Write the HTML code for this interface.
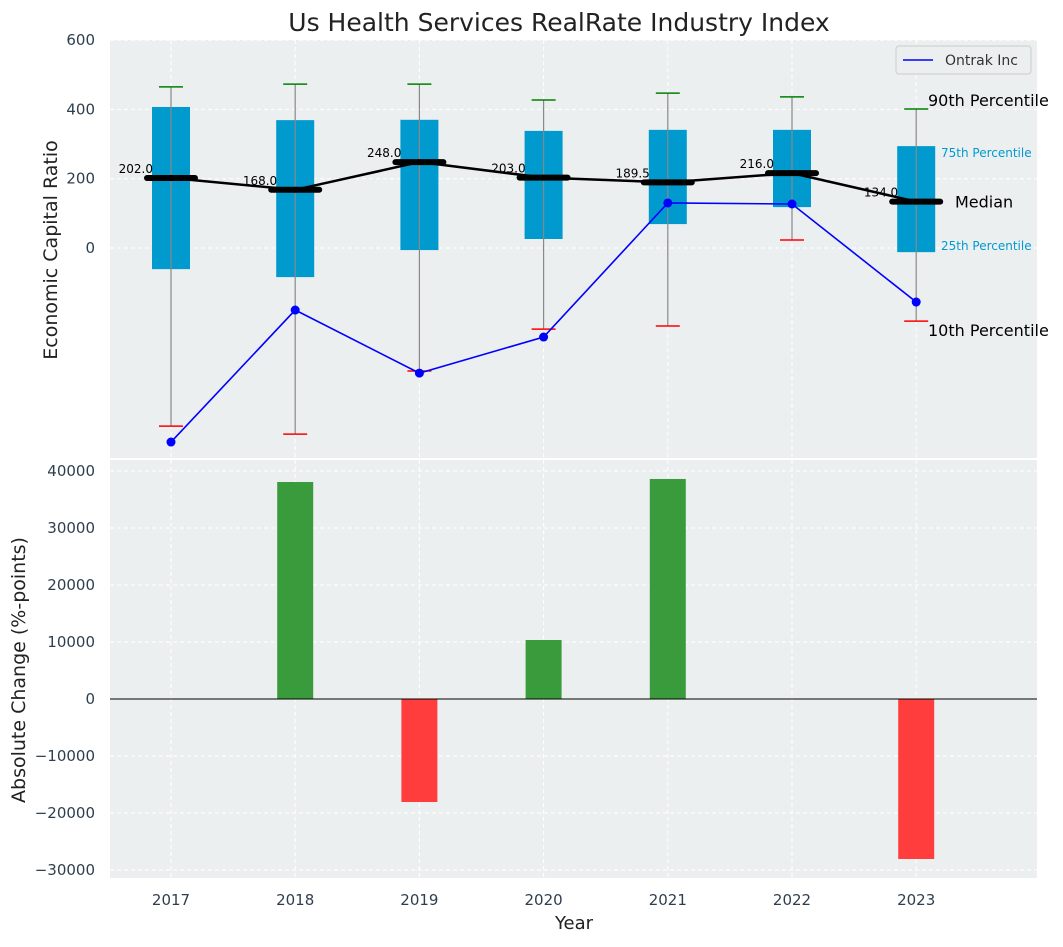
<!DOCTYPE html>
<html><head><meta charset="utf-8"><style>
body{margin:0;background:#fff;font-family:"Liberation Sans","DejaVu Sans",sans-serif}
svg text{font-family:"DejaVu Sans","Liberation Sans",sans-serif}
</style></head><body>
<svg id="c" width="1063" height="942" xmlns="http://www.w3.org/2000/svg"></svg>
<script>
const years=["2017","2018","2019","2020","2021","2022","2023"];
const p10=[-514,-537,-355,-234,-225,23,-211];
const p25=[-61,-84,-6,26,69,118,-12];
const med=[202,168,248,203,189.5,216,134];
const p75=[407,369,370,338,341,341,294];
const p90=[465,473,473,427,447,436,401];
const ontrak=[-560,-179,-361,-257,130,127,-156];
const change=[0,38070,-18070,10350,38600,0,-28070];
const topTicks=[0,200,400,600];
const botTicks=[-30000,-20000,-10000,0,10000,20000,30000,40000];

const NS="http://www.w3.org/2000/svg",svg=document.getElementById('c');
function el(t,a,txt){const e=document.createElementNS(NS,t);for(const k in a)e.setAttribute(k,a[k]);if(txt!==undefined)e.textContent=txt;svg.appendChild(e);return e;}
const L=110,R=1037,T1=40,B1=458,T2=460,B2=878;
const x=i=>171+i*124.2;
const y1=v=>248-v*69.3/200;
const y2=v=>699-v*228/40000;

let e;
e=el('rect',{x:L,y:T1,width:R-L,height:B1-T1,fill:'#eceff0'});

e=el('rect',{x:L,y:T2,width:R-L,height:B2-T2,fill:'#eceff0'});


years.forEach((yr,i)=>{
 el('line',{x1:x(i),x2:x(i),y1:T1,y2:B1,stroke:'#fff','stroke-dasharray':'4,3'});
 el('line',{x1:x(i),x2:x(i),y1:T2,y2:B2,stroke:'#fff','stroke-dasharray':'4,3'});
 e=el('text',{x:x(i),y:905,'text-anchor':'middle','font-size':15,fill:'#2f3e4e'},yr);
 
});
topTicks.forEach(t=>{
 el('line',{x1:L,x2:R,y1:y1(t),y2:y1(t),stroke:'#fff','stroke-dasharray':'4,3'});
 e=el('text',{x:95,y:y1(t)+5,'text-anchor':'end','font-size':15,fill:'#2f3e4e'},t);
 
});
botTicks.forEach(t=>{
 el('line',{x1:L,x2:R,y1:y2(t),y2:y2(t),stroke:'#fff','stroke-dasharray':'4,3'});
 e=el('text',{x:95,y:y2(t)+5,'text-anchor':'end','font-size':15,fill:'#2f3e4e'},t<0?'\u2212'+(-t):t);
 
});

years.forEach((yr,i)=>{
 e=el('rect',{x:x(i)-19,y:y1(p75[i]),width:38,height:y1(p25[i])-y1(p75[i]),fill:'#009ace'});
 
 e=el('line',{x1:x(i),x2:x(i),y1:y1(p90[i]),y2:y1(p10[i]),stroke:'#888','stroke-width':1.2});
 
 e=el('line',{x1:x(i)-12,x2:x(i)+12,y1:y1(p90[i]),y2:y1(p90[i]),stroke:'green','stroke-width':1.5});
 
 e=el('line',{x1:x(i)-12,x2:x(i)+12,y1:y1(p10[i]),y2:y1(p10[i]),stroke:'red','stroke-width':1.5});
 
});
e=el('polyline',{points:med.map((v,i)=>x(i)+','+y1(v)).join(' '),fill:'none',stroke:'#000','stroke-width':2.5});

years.forEach((yr,i)=>{
 e=el('line',{x1:x(i)-24,x2:x(i)+24,y1:y1(med[i]),y2:y1(med[i]),stroke:'#000','stroke-width':6,'stroke-linecap':'round'});
 
 e=el('text',{x:x(i)-18,y:y1(med[i])-5,'text-anchor':'end','font-size':12,fill:'#000'},med[i].toFixed(1));
 
});
e=el('polyline',{points:ontrak.map((v,i)=>x(i)+','+y1(v)).join(' '),fill:'none',stroke:'blue','stroke-width':1.6});

ontrak.forEach((v,i)=>{e=el('circle',{cx:x(i),cy:y1(v),r:4.5,fill:'blue'});
 });

[['90th Percentile',928,y1(p90[6])-3,16,'#000'],['75th Percentile',941,y1(p75[6])+11,12,'#009ace'],['Median',955,y1(med[6])+6,16,'#000'],['25th Percentile',941,y1(p25[6])-2,12,'#009ace'],['10th Percentile',928,y1(p10[6])+15,16,'#000']].forEach(a=>{
 e=el('text',{x:a[1],y:a[2],'font-size':a[3],fill:a[4]},a[0]);
 
});

e=el('rect',{x:896,y:46,width:135,height:28,fill:'#eceff0',stroke:'#ccc',rx:3});

el('line',{x1:903,x2:933,y1:60,y2:60,stroke:'blue','stroke-width':1.6});
e=el('text',{x:945,y:65,'font-size':14,fill:'#333'},'Ontrak Inc');


change.forEach((v,i)=>{if(!v)return;
 e=el('rect',{x:x(i)-18,y:Math.min(y2(v),y2(0)),width:36,height:Math.abs(y2(v)-y2(0)),fill:v>0?'#3a9b3c':'#ff3d3d'});
 
});
el('line',{x1:L,x2:R,y1:y2(0),y2:y2(0),stroke:'#000','stroke-width':1});

e=el('text',{x:559,y:31,'text-anchor':'middle','font-size':25,fill:'#222'},'Us Health Services RealRate Industry Index');

e=el('text',{x:574,y:929,'text-anchor':'middle','font-size':18,fill:'#222'},'Year');

e=el('text',{x:0,y:0,transform:'translate(57,250) rotate(-90)','text-anchor':'middle','font-size':19,fill:'#222'},'Economic Capital Ratio');

e=el('text',{x:0,y:0,transform:'translate(25,670) rotate(-90)','text-anchor':'middle','font-size':19,fill:'#222'},'Absolute Change (%-points)');

</script>
</body></html>
